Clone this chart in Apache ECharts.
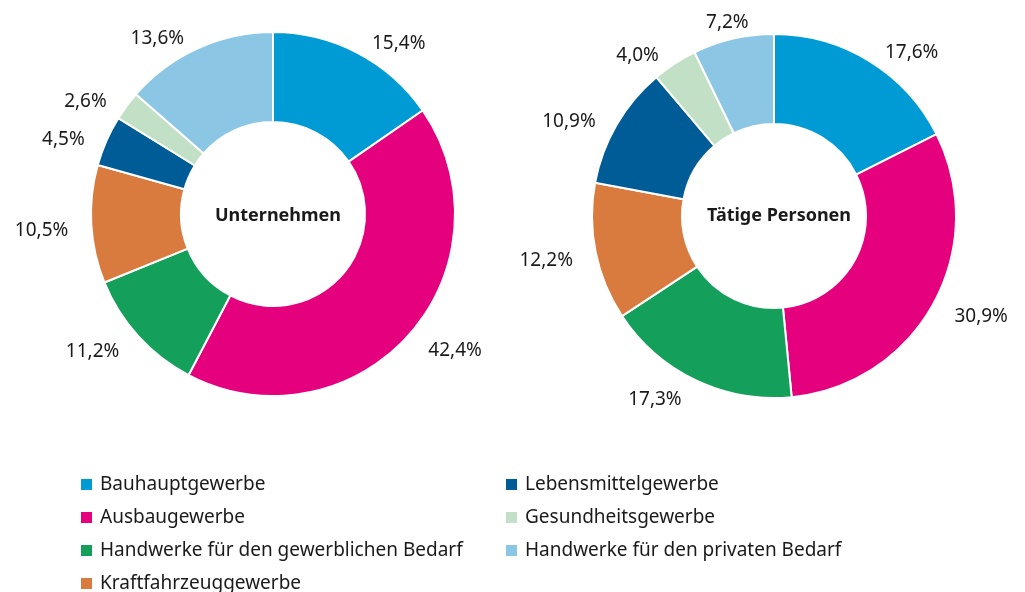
<!DOCTYPE html>
<html>
<head>
<meta charset="utf-8">
<script src="https://cdn.jsdelivr.net/npm/echarts@6/dist/echarts.min.js"></script>
<style>
  html, body { margin: 0; padding: 0; background: #fff; }
  #chart { width: 1025px; height: 592px; }
</style>
</head>
<body>
<div id="chart"></div>
<script>
const categories = [
  'Bauhauptgewerbe',
  'Ausbaugewerbe',
  'Handwerke für den gewerblichen Bedarf',
  'Kraftfahrzeuggewerbe',
  'Lebensmittelgewerbe',
  'Gesundheitsgewerbe',
  'Handwerke für den privaten Bedarf'
]
const unternehmen = [15.4, 42.4, 11.2, 10.5, 4.5, 2.6, 13.6]
const taetigePersonen = [17.6, 30.9, 17.3, 12.2, 10.9, 4.0, 7.2]
const colors = ['#009bd5', '#e5007d', '#14a05a', '#d97b3e', '#005c97', '#c2e0c6', '#8bc7e4']

const font = '"Noto Sans", sans-serif'
const chart = echarts.init(document.getElementById('chart'))

function fmt(p) {
  return p.value.toFixed(1).replace('.', ',') + '%'
}

// nudge labels down a little; the small top slice label sits centred above its slice
function nudge(params) {
  if (params.seriesIndex === 1 && params.dataIndex === 6) return { dx: 26, dy: 0 }
  return { dy: 5 }
}

function donut(name, values, center) {
  return {
    type: 'pie',
    name: name,
    center: center,
    radius: [92, 182],
    startAngle: 90,
    clockwise: true,
    animation: false,
    itemStyle: { borderColor: '#fff', borderWidth: 2 },
    label: {
      show: true,
      position: 'outside',
      formatter: fmt,
      color: '#1a1a1a',
      fontSize: 19,
      fontFamily: font
    },
    labelLine: { show: false, length: 16, length2: 2 },
    labelLayout: nudge,
    emphasis: { disabled: true },
    data: categories.map((c, i) => ({ name: c, value: values[i], itemStyle: { color: colors[i] } }))
  }
}

function legend(items, left) {
  return {
    orient: 'vertical',
    left: left,
    top: 470,
    height: 130,
    itemWidth: 13,
    itemHeight: 13,
    itemGap: 14,
    icon: 'rect',
    selectedMode: false,
    data: items,
    textStyle: { color: '#1a1a1a', fontSize: 19, fontFamily: font, padding: [0, 0, 0, 2] }
  }
}

chart.setOption({
  color: colors,
  title: [
    { text: 'Unternehmen', left: 273, top: 202, textAlign: 'center',
      textStyle: { fontSize: 18, fontWeight: 'bold', color: '#1a1a1a', fontFamily: font } },
    { text: 'Tätige Personen', left: 774, top: 202, textAlign: 'center',
      textStyle: { fontSize: 18, fontWeight: 'bold', color: '#1a1a1a', fontFamily: font } }
  ],
  legend: [
    legend(categories.slice(0, 4), 74),
    legend(categories.slice(4), 499)
  ],
  series: [
    donut('Unternehmen', unternehmen, [273, 214]),
    donut('Tätige Personen', taetigePersonen, [774, 216])
  ]
})
</script>
</body>
</html>
